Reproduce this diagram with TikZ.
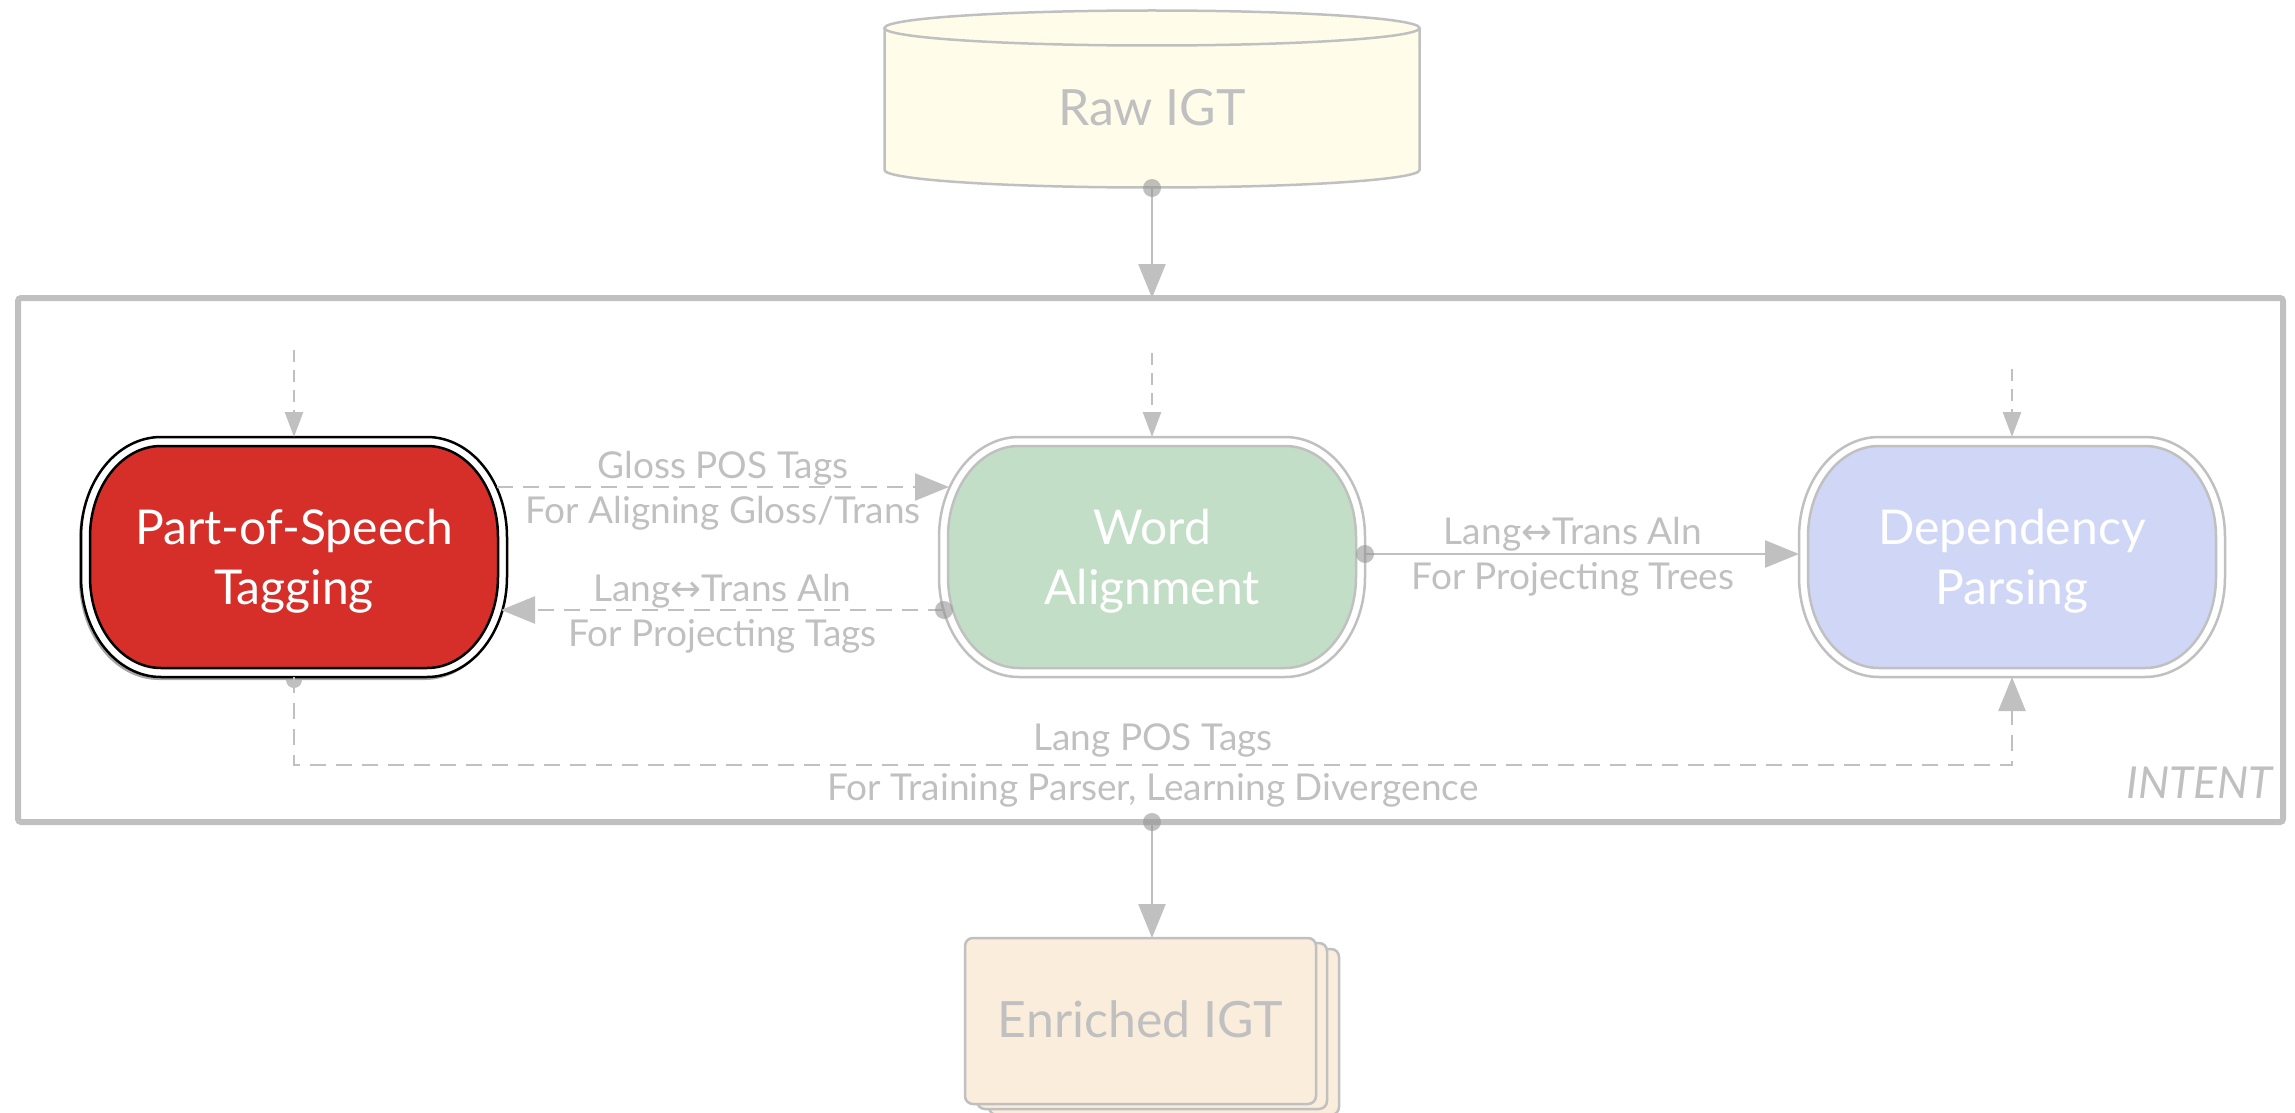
\documentclass[tikz,border=0pt]{standalone}
\usepackage{fontspec}
\setmainfont{Lato}
\newfontfamily\symf{DejaVu Sans}
\usetikzlibrary{arrows.meta,calc}

\definecolor{ln}{RGB}{192,192,192}
\definecolor{txtgray}{RGB}{192,192,192}
\definecolor{posred}{RGB}{214,47,42}
\definecolor{wagreen}{RGB}{195,222,199}
\definecolor{dpblue}{RGB}{208,214,245}
\definecolor{rawyellow}{RGB}{255,253,234}
\definecolor{enrpeach}{RGB}{250,237,220}
\definecolor{dotgray}{RGB}{150,150,150}

% stadium outline: left, top, right, bottom, corner x radius, corner y radius
\newcommand\stadpath[6]{%
  ({#1+#5},{#2}) -- ({#3-#5},{#2})
  .. controls ({#3-#5+0.5523*#5},{#2}) and ({#3},{#2+#6-0.5523*#6}) .. ({#3},{#2+#6})
  -- ({#3},{#4-#6})
  .. controls ({#3},{#4-#6+0.5523*#6}) and ({#3-#5+0.5523*#5},{#4}) .. ({#3-#5},{#4})
  -- ({#1+#5},{#4})
  .. controls ({#1+#5-0.5523*#5},{#4}) and ({#1},{#4-#6+0.5523*#6}) .. ({#1},{#4-#6})
  -- ({#1},{#2+#6})
  .. controls ({#1},{#2+#6-0.5523*#6}) and ({#1+#5-0.5523*#5},{#2}) .. ({#1+#5},{#2}) -- cycle}

% double-bordered process shape: centre x, fill, border colour, border width
\newcommand\procshape[4]{%
  \path[fill=white, draw=#3, line width=#4] \stadpath{#1-213}{437}{#1+213}{677}{80}{100};
  \path[fill=#2, draw=#3, line width=#4] \stadpath{#1-204}{446}{#1+204}{668}{71}{91};
}

\tikzset{
  proctext/.style={text=white, font=\fontsize{48}{60}\selectfont, align=center,
    minimum width=426pt, minimum height=240pt, inner sep=0pt, outer sep=0pt},
  lbl/.style={text=txtgray, font=\fontsize{37}{45}\selectfont, align=center, inner sep=0pt},
  bigtext/.style={text=txtgray, font=\fontsize{50}{60}\selectfont, inner sep=0pt},
  con/.style={draw=ln, line width=2.5pt, -{Triangle[width=27pt,length=34pt]}},
  dashcon/.style={con, dash pattern=on 16pt off 10pt},
  feed/.style={draw=ln, line width=2.7pt, dash pattern=on 12pt off 8pt,
    -{Triangle[width=18pt,length=25pt]}},
  srcdot/.style={fill=dotgray, fill opacity=0.6},
  sheet/.style={draw=ln, line width=2.5pt, fill=enrpeach, rounded corners=8pt},
}

\begin{document}
\begin{tikzpicture}[x=1pt, y=-1pt]
\useasboundingbox (0,0) rectangle (2295,1113);

% INTENT frame
\node[draw=ln, line width=6pt, rounded corners=3pt, minimum width=2265pt,
  minimum height=524pt, inner sep=0pt, outer sep=0pt] (intent) at (1150.5,560) {};
\node[text=txtgray, font=\itshape\fontsize{44}{44}\selectfont, anchor=south east,
  inner sep=0pt] (intentname) at (2273,799) {INTENT};

% Raw IGT store
\path[fill=rawyellow] (884.5,28) -- (884.5,170)
  arc[start angle=180, end angle=0, x radius=267.5, y radius=17.5] -- (1419.5,28) -- cycle;
\draw[ln, line width=2.5pt] (884.5,28) -- (884.5,170)
  arc[start angle=180, end angle=0, x radius=267.5, y radius=17.5] -- (1419.5,28);
\draw[ln, line width=2.5pt, fill=rawyellow] (1152,28) ellipse[x radius=267.5, y radius=17.5];
\node[bigtext] (raw) at (1152,108) {Raw IGT};
\coordinate (rawbot) at (1152,188);

% origin dot of the POS output line, partly hidden by the shape
\fill[srcdot] (294,680) circle[radius=8];

% process shapes
\path[fill=black!35, shift={(-2,3)}] \stadpath{81}{437}{507}{677}{80}{100};
\procshape{294}{posred}{black}{2.5pt}
\procshape{1152}{wagreen}{ln}{2.5pt}
\procshape{2012}{dpblue}{ln}{2.5pt}

\node[proctext, yshift=-4pt] (pos) at (294,557) {Part-of-Speech\\Tagging};
\node[proctext, yshift=-4pt] (word) at (1152,557) {Word\\Alignment};
\node[proctext, yshift=-4pt] (dep) at (2012,557) {Dependency\\Parsing};

% external inputs
\coordinate (posfeed) at (294,350);
\coordinate (wordfeed) at (1152,353);
\coordinate (depfeed) at (2012,369);
\draw[feed] (posfeed) -- ($(pos.north)+(0,-4)$);
\draw[feed] (wordfeed) -- ($(word.north)+(0,-4)$);
\draw[feed] (depfeed) -- ($(dep.north)+(0,-4)$);

% Raw IGT into INTENT
\draw[con] (rawbot) -- (rawbot |- intent.north);
\fill[srcdot] (rawbot) circle[radius=9];

% POS -> Word Alignment
\draw[dashcon] ($(pos.east)+(-10,-74)$) --
  node[lbl, yshift=-4pt] {Gloss POS Tags\\For Aligning Gloss/Trans} ($(word.west)+(10,-74)$);

% Word Alignment -> POS
\draw[dashcon] ($(word.west)+(5,49)$) --
  node[lbl, yshift=-4pt] {Lang{\symf ↔}Trans Aln\\For Projecting Tags} ($(pos.east)+(-6,49)$);
\fill[srcdot] ($(word.west)+(5,49)$) circle[radius=9];

% Word Alignment -> Dependency Parsing
\draw[con] ($(word.east)+(0,-7)$) --
  node[lbl, xshift=-9pt, yshift=-3pt] {Lang{\symf ↔}Trans Aln\\For Projecting Trees} ($(dep.west)+(0,-7)$);
\fill[srcdot] ($(word.east)+(0,-7)$) circle[radius=9];

% POS -> Dependency Parsing
\draw[dashcon] ($(pos.south)+(0,-4)$) -- ++(0,88) -|
  node[pos=0.25, lbl, font=\fontsize{37}{50}\selectfont, yshift=0pt]
  {Lang POS Tags\\For Training Parser, Learning Divergence} ($(dep.south)+(0,-4)$);

% Enriched IGT output
\path[sheet] (989,949) rectangle (1339,1115);
\path[sheet] (977,943) rectangle (1327,1109);
\node[sheet, text=txtgray, font=\fontsize{50}{60}\selectfont, minimum width=351pt,
  minimum height=166pt, inner sep=0pt, outer sep=0pt] (enr) at (1140.5,1021)
  {\raisebox{4pt}{Enriched IGT}};
\coordinate (outdot) at (intent.south -| word.center);
\draw[con] (outdot) -- (outdot |- enr.north);
\fill[srcdot] (outdot) circle[radius=9];
\end{tikzpicture}
\end{document}
